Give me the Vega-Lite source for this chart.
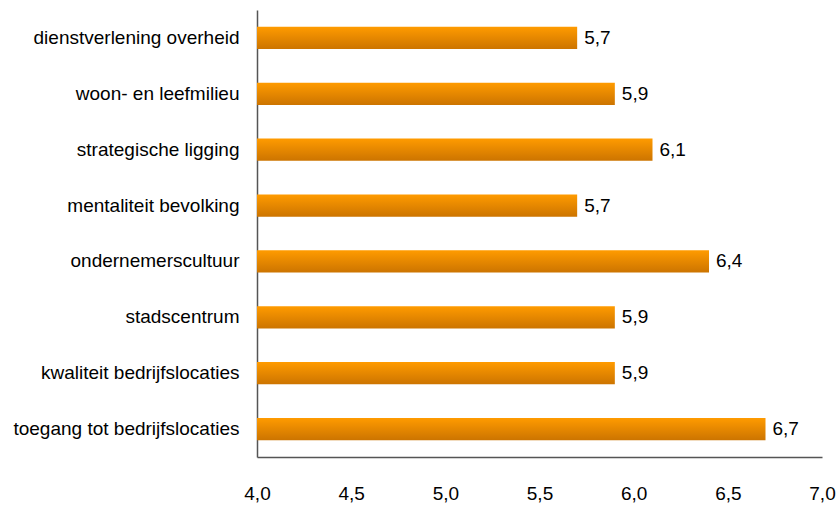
{
  "$schema": "https://vega.github.io/schema/vega-lite/v6.json",
  "autosize": {"type": "none"},
  "padding": {"left": 257, "top": 10, "right": 15, "bottom": 48},
  "width": 565,
  "height": 447,
  "background": "white",
  "config": {
    "view": {"stroke": null},
    "font": "Liberation Sans",
    "locale": {"number": {"decimal": ",", "thousands": ".", "grouping": [3], "currency": ["€", ""]}}
  },
  "data": {
    "values": [
      {"factor": "dienstverlening overheid", "score": 5.7},
      {"factor": "woon- en leefmilieu", "score": 5.9},
      {"factor": "strategische ligging", "score": 6.1},
      {"factor": "mentaliteit bevolking", "score": 5.7},
      {"factor": "ondernemerscultuur", "score": 6.4},
      {"factor": "stadscentrum", "score": 5.9},
      {"factor": "kwaliteit bedrijfslocaties", "score": 5.9},
      {"factor": "toegang tot bedrijfslocaties", "score": 6.7}
    ]
  },
  "encoding": {
    "y": {
      "field": "factor", "type": "nominal", "sort": null,
      "scale": {"paddingInner": 0.6, "paddingOuter": 0.3},
      "axis": {
        "title": null, "ticks": false, "labelFontSize": 19, "labelColor": "#000",
        "labelPadding": 18, "domainColor": "#555", "domainWidth": 1.5, "labelLimit": 300
      }
    }
  },
  "layer": [
    {
      "mark": {
        "type": "bar",
        "clip": true,
        "color": {
          "gradient": "linear", "x1": 0, "y1": 0, "x2": 0, "y2": 1,
          "stops": [
            {"offset": 0, "color": "#ff9b00"},
            {"offset": 1, "color": "#cc7400"}
          ]
        }
      },
      "encoding": {
        "x": {
          "field": "score", "type": "quantitative",
          "scale": {"domain": [4, 7], "nice": false, "zero": false},
          "axis": {
            "title": null, "values": [4, 4.5, 5, 5.5, 6, 6.5, 7], "format": ".1f",
            "ticks": false, "grid": false, "labelFontSize": 19, "labelColor": "#000",
            "labelFlush": false, "labelOverlap": false,
            "labelPadding": 27, "domainColor": "#555", "domainWidth": 1.5
          }
        }
      }
    },
    {
      "mark": {"type": "text", "align": "left", "dx": 7, "fontSize": 19, "color": "#000"},
      "encoding": {
        "x": {"field": "score", "type": "quantitative"},
        "text": {"field": "score", "type": "quantitative", "format": ".1f"}
      }
    }
  ]
}
